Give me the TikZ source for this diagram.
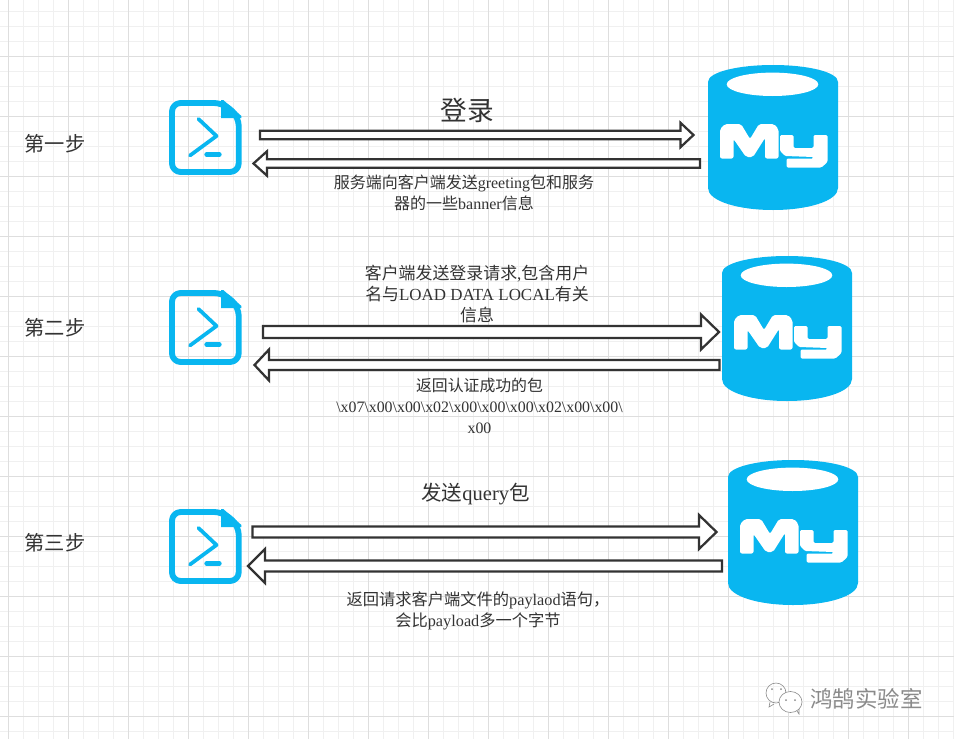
\documentclass[tikz,border=0pt]{standalone}
\usepackage{fontspec}
\setmainfont{Liberation Serif}
\newfontfamily\cjk{Noto Sans CJK SC}
\usetikzlibrary{calc}
\definecolor{mysqlblue}{HTML}{09B6F0}
\definecolor{ink}{HTML}{333333}
\definecolor{gridminor}{HTML}{F0F0F0}
\definecolor{gridmajor}{HTML}{DEDEDE}
\definecolor{markgray}{HTML}{8A8A8A}
\newcommand\zh[1]{{\cjk #1}}
\newcommand\blockarrow[5]{%
  \draw[blockline] ($(#1)+(0,-#3)$) -- ($(#2)+(#5,-#3)$) -- ($(#2)+(#5,-#4)$) -- (#2)
    -- ($(#2)+(#5,#4)$) -- ($(#2)+(#5,#3)$) -- ($(#1)+(0,#3)$) -- cycle;}
\tikzset{
  x=0.75pt,y=-0.75pt,
  blockline/.style={draw=ink,line width=1.7pt,fill=white,line join=miter},
  steplabel/.style={text=ink,inner sep=0pt,font=\fontsize{15.2}{18}\selectfont\cjk},
  caption/.style={text=ink,inner sep=0pt,align=center,font=\fontsize{12}{16}\selectfont},
  fileicon/.pic={
    \draw[mysqlblue,line width=4.4pt,line join=round,rounded corners=6.5pt]
      (3,3) -- (54,3) -- (69.7,17) -- (69.7,72) -- (3,72) -- cycle;
    \fill[mysqlblue] (52,0.2) -- (54.5,0.2) -- (72.4,16) -- (72.4,18) -- (52,18) -- cycle;
    \draw[mysqlblue,line width=2.8pt,line cap=round,line join=round]
      (29.5,19) -- (47.5,36) -- (21,55.5);
    \draw[mysqlblue,line width=3.2pt,line cap=round] (37.5,54.5) -- (50.5,54.5);
  },
  dbicon/.pic={
    \fill[mysqlblue] (0,17) .. controls (0,7) and (30,0) .. (65,0)
      .. controls (100,0) and (130,7) .. (130,17)
      -- (130,123) .. controls (130,136) and (100,145) .. (65,145)
      .. controls (30,145) and (0,136) .. (0,123) -- cycle;
    \fill[white] (64.5,19.3) ellipse [x radius=45.8,y radius=11.7];
    % M
    \fill[white,rounded corners=1.5pt]
      (12,93.5) -- (12,64) -- (17,59) -- (33,59) -- (42,74) -- (51,59) -- (66,59) -- (70.5,64)
      -- (70.5,93.5) -- (57,93.5) -- (57,73) -- (45,92) -- (38,92) -- (25.5,74) -- (25.5,93.5) -- cycle;
    % y
    \fill[white,rounded corners=1pt]
      (72,70) -- (85.5,70) -- (85.5,83) -- (105.5,83) -- (105.5,70) -- (119.5,70)
      -- (119.5,97) -- (113.5,102.5) -- (78.5,102.5) -- (78.5,93.5) -- (105.5,93.5) -- (105.5,92)
      -- (77,91) -- (72,86) -- cycle;
  }
}
\begin{document}
\begin{tikzpicture}
\useasboundingbox (0,0) rectangle (954,739);
\fill[white] (0,0) rectangle (954,739);
% grid
\foreach \gx in {8.3,23.3,...,954} \draw[gridminor,line width=0.6pt] (\gx,0) -- (\gx,739);
\foreach \gy in {11.5,26.5,...,739} \draw[gridminor,line width=0.6pt] (0,\gy) -- (954,\gy);
\foreach \gx in {8.3,68.3,...,954} \draw[gridmajor,line width=0.6pt] (\gx,0) -- (\gx,739);
\foreach \gy in {56,116,...,739} \draw[gridmajor,line width=0.6pt] (0,\gy) -- (954,\gy);

% step labels
\node[steplabel] (s1) at (55,144) {第一步};
\node[steplabel] (s2) at (55,328) {第二步};
\node[steplabel] (s3) at (55,543) {第三步};

% icons
\coordinate (f1) at (169,100);
\coordinate (f2) at (169,290);
\coordinate (f3) at (169,509);
\pic at (f1) {fileicon};
\pic at (f2) {fileicon};
\pic at (f3) {fileicon};
\coordinate (d1) at (708,65);
\coordinate (d2) at (722,256);
\coordinate (d3) at (728,460);
\pic at (d1) {dbicon};
\pic at (d2) {dbicon};
\pic at (d3) {dbicon};

% connector ends
\coordinate (a1s) at (260,135);   \coordinate (a1e) at (693.5,135);
\coordinate (b1s) at (700,163.5); \coordinate (b1e) at (253.5,163.5);
\coordinate (a2s) at (263,332);   \coordinate (a2e) at (719,332);
\coordinate (b2s) at (719.5,365); \coordinate (b2e) at (254.5,365);
\coordinate (a3s) at (252.5,532); \coordinate (a3e) at (716.5,532);
\coordinate (b3s) at (722,566);   \coordinate (b3e) at (248,566);

\blockarrow{a1s}{a1e}{4.2}{12.2}{-13}
\blockarrow{b1s}{b1e}{4.2}{12.2}{13.5}
\blockarrow{a2s}{a2e}{6}{17.5}{-18}
\blockarrow{b2s}{b2e}{5}{15.5}{14.5}
\blockarrow{a3s}{a3e}{5.5}{17}{-17.5}
\blockarrow{b3s}{b3e}{5.5}{17}{17}

% captions
\node[caption,font=\fontsize{20}{24}\selectfont] (t1) at (467,110) {\zh{登录}};
\node[caption] (t2) at (464,193) {\zh{服务端向客户端发送}greeting\zh{包和服务}\\\zh{器的一些}banner\zh{信息}};
\node[caption,font=\fontsize{12.7}{16}\selectfont] (t3) at (477,294) {\zh{客户端发送登录请求},\zh{包含用户}\\\zh{名与}LOAD DATA LOCAL\zh{有关}\\\zh{信息}};
\node[caption,font=\fontsize{11.9}{15.5}\selectfont] (t4) at (479.5,406) {\zh{返回认证成功的包}\\\textbackslash x07\textbackslash x00\textbackslash x00\textbackslash x02\textbackslash x00\textbackslash x00\textbackslash x00\textbackslash x02\textbackslash x00\textbackslash x00\textbackslash\\x00};
\node[caption,font=\fontsize{15.4}{18}\selectfont] (t5) at (475.5,494.5) {\zh{发送}query\zh{包}};
\node[caption,font=\fontsize{12.2}{15.5}\selectfont] (t6) at (478,611) {\zh{返回请求客户端文件的}paylaod\zh{语句，}\\\zh{会比}payload\zh{多一个字节}};

% watermark
\draw[markgray,line width=0.45pt,fill=none] (776,693) ellipse [x radius=10,y radius=10];
\fill[white] (790.5,702) ellipse [x radius=11.5,y radius=10.5];
\draw[markgray,line width=0.45pt] (790.5,702) ellipse [x radius=11.5,y radius=10.5];
\fill[markgray] (772,689) circle (1) (781,689) circle (1) (786,700) circle (1) (795,700) circle (1);
\draw[markgray,line width=0.45pt] (797,711) -- (799,714) -- (799,709);
\draw[markgray,line width=0.45pt] (770,702) -- (769,707) -- (774,704);
\node[text=markgray,inner sep=0pt,font=\fontsize{16.8}{20}\selectfont\cjk] (wm) at (866.5,699) {鸿鹄实验室};
\end{tikzpicture}
\end{document}
